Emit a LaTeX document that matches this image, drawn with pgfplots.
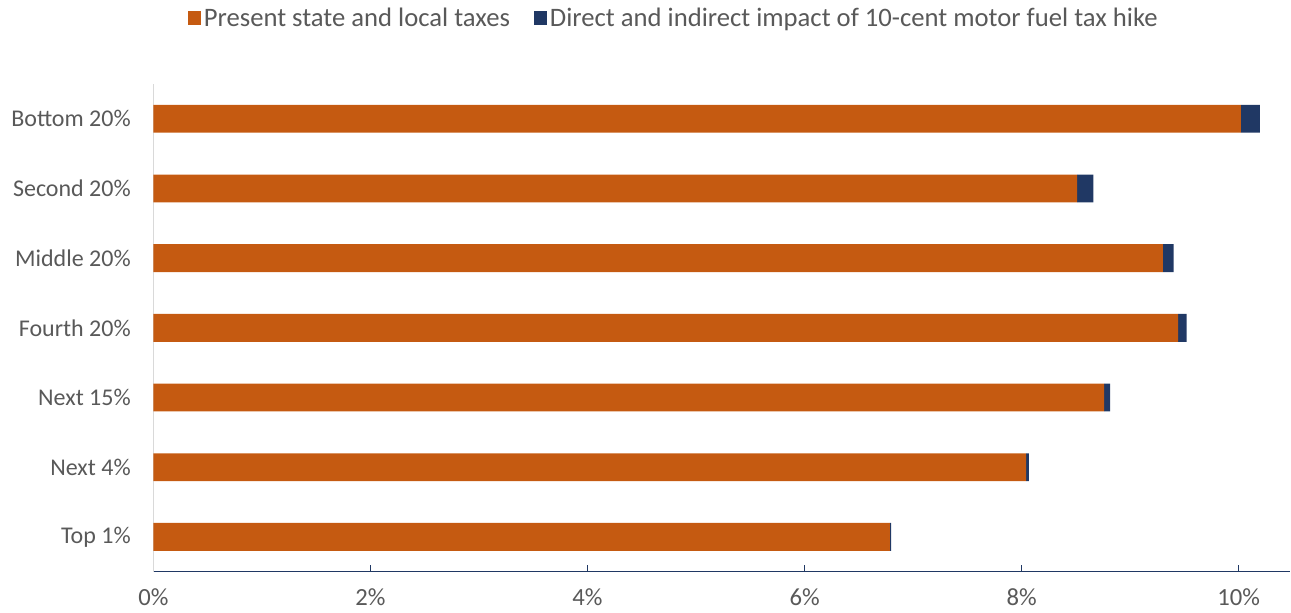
\documentclass[border=0pt]{standalone}
\usepackage{pgfplots}
\pgfplotsset{compat=1.18}
\usepackage{fontspec}
\setmainfont{Carlito}
\definecolor{barorange}{RGB}{197,90,17}
\definecolor{barnavy}{RGB}{32,56,100}
\definecolor{txtgray}{RGB}{89,89,89}
\definecolor{axgray}{RGB}{217,217,217}
\begin{document}
\begin{tikzpicture}
\begin{axis}[
  name=ax,
  scale only axis,
  width=853.1pt, height=366pt,
  xbar stacked,
  bar width=0.4,
  xmin=0, xmax=10.475,
  ymin=-0.5, ymax=6.5,
  ytick={0,1,2,3,4,5,6},
  yticklabels={Top 1\%,Next 4\%,Next 15\%,Fourth 20\%,Middle 20\%,Second 20\%,Bottom 20\%},
  xtick={0,2,4,6,8,10},
  xticklabel={\pgfmathprintnumber{\tick}\%},
  /pgf/number format/assume math mode=true,
  tick label style={font=\fontsize{18.5}{21}\selectfont, text=txtgray},
  xticklabel style={yshift=-9pt},
  yticklabel style={xshift=-13.5pt, font=\fontsize{18}{21}\selectfont},
  axis x line*=bottom,
  axis y line*=left,
  x axis line style={draw=barnavy, line width=1pt, -},
  y axis line style={draw=axgray, line width=1pt, -},
  xtick align=inside,
  x tick style={draw=barnavy, line width=1pt},
  major tick length=5pt,
  ytick style={draw=none},
  clip=false,
  legend columns=2,
  legend style={draw=none, fill=none, at={(0.458,1.135)}, anchor=center,
    font=\fontsize{20}{23}\selectfont, text=txtgray,
    /tikz/every even column/.append style={column sep=16pt}},
  legend image code/.code={\fill[#1] (0pt,-5pt) rectangle (10pt,5pt);},
]
\addplot[fill=barorange, draw=none] coordinates {
  (6.785,0) (8.04,1) (8.76,2) (9.44,3) (9.30,4) (8.51,5) (10.02,6)};
\addlegendentry{Present state and local taxes}
\addplot[fill=barnavy, draw=none] coordinates {
  (0.012,0) (0.025,1) (0.055,2) (0.08,3) (0.10,4) (0.15,5) (0.175,6)};
\addlegendentry{Direct and indirect impact of 10-cent motor fuel tax hike}
\end{axis}
\useasboundingbox ([xshift=-115.1pt,yshift=-30.75pt]ax.south west) rectangle ([yshift=63pt]ax.north east);
\end{tikzpicture}
\end{document}
